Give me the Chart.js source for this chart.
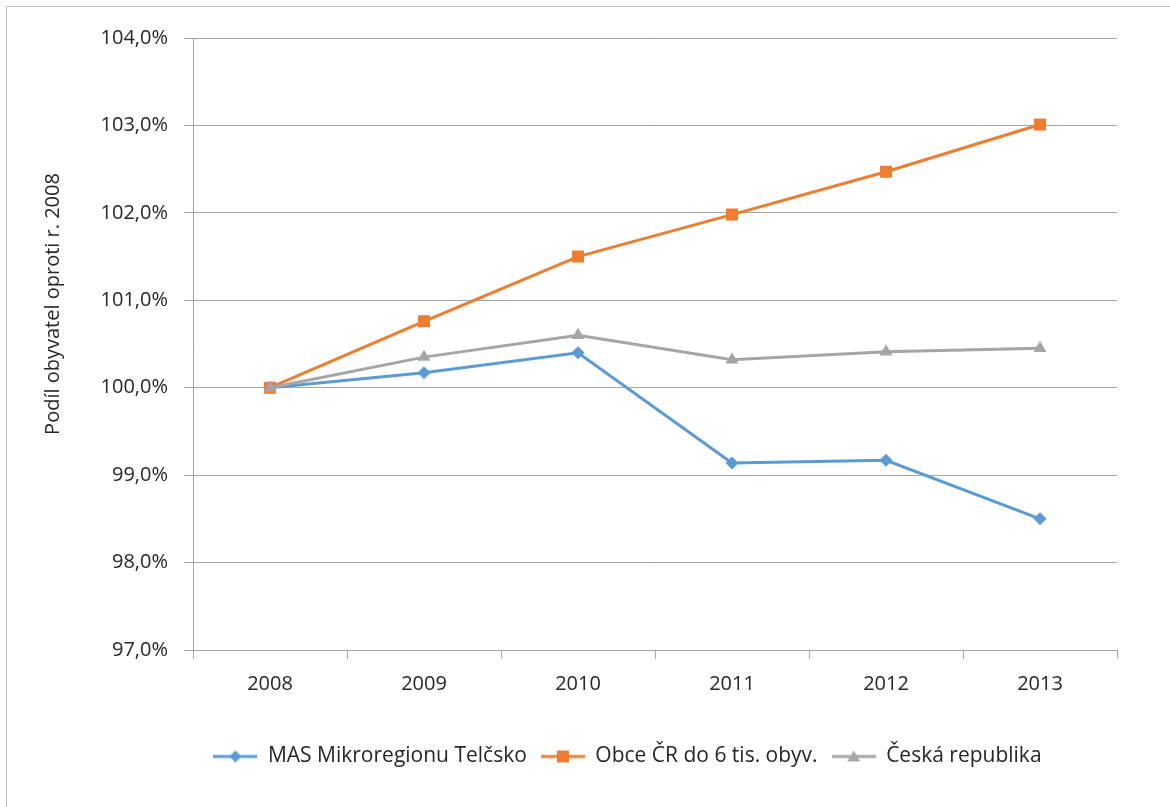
<!DOCTYPE html>
<html><head><meta charset="utf-8">
<script src="https://cdn.jsdelivr.net/npm/chart.js@4"></script>
<style>html,body{margin:0;padding:0;background:#fff;} #wrap{position:relative;width:1170px;height:807px;}</style>
</head><body><div id="wrap"><canvas id="c" width="1170" height="807"></canvas></div>
<script>
const categories = ['2008', '2009', '2010', '2011', '2012', '2013'];
const masTelcsko = [100.0, 100.17, 100.40, 99.14, 99.17, 98.50];
const obceCR = [100.0, 100.76, 101.50, 101.98, 102.47, 103.01];
const ceskaRepublika = [100.0, 100.35, 100.60, 100.32, 100.41, 100.45];
const seriesNames = ['MAS Mikroregionu Telčsko', 'Obce ČR do 6 tis. obyv.', 'Česká republika'];
const yMin = 97, yMax = 104, yStep = 1;
const yTitle = 'Podíl obyvatel oproti r. 2008';

const colors = ['#5B9BD5', '#ED7D31', '#A5A5A5'];
const styles = ['rectRot', 'rect', 'triangle'];
const radii = [6.5, 8.5, 7.5];
const textColor = '#262626';
const gridColor = '#a6a6a6';
const FONT = "'Open Sans', 'Noto Sans', sans-serif";

function legendIcon(i) {
  const c = document.createElement('canvas');
  c.width = 44; c.height = 18;
  const x = c.getContext('2d');
  x.strokeStyle = colors[i]; x.fillStyle = colors[i]; x.lineWidth = 3;
  x.beginPath(); x.moveTo(0, 9); x.lineTo(44, 9); x.stroke();
  x.beginPath();
  if (styles[i] === 'rectRot') { x.moveTo(22, 3); x.lineTo(28, 9); x.lineTo(22, 15); x.lineTo(16, 9); }
  else if (styles[i] === 'rect') { x.rect(16, 3, 12, 12); }
  else { x.moveTo(22, 3); x.lineTo(28.5, 14); x.lineTo(15.5, 14); }
  x.closePath(); x.fill();
  return c;
}
const icons = [0, 1, 2].map(legendIcon);

const decor = {
  id: 'decor',
  afterLayout(chart) {
    if (chart.legend) { chart.legend.left += 27; chart.legend.right += 27; }
  },
  beforeDraw(chart) {
    const ctx = chart.ctx; ctx.save();
    ctx.fillStyle = '#fff'; ctx.fillRect(0, 0, chart.width, chart.height);
    ctx.strokeStyle = '#bfbfbf'; ctx.lineWidth = 1; ctx.strokeRect(6.5, 6.5, 1400, 1000);
    ctx.restore();
  },
  afterDraw(chart) {
    const ctx = chart.ctx; ctx.save();
    ctx.translate(53, 304); ctx.rotate(-Math.PI / 2);
    ctx.font = "20px " + FONT; ctx.fillStyle = textColor;
    ctx.textAlign = 'center'; ctx.textBaseline = 'middle';
    ctx.fillText(yTitle, 0, 0); ctx.restore();
  }
};

const seriesData = [masTelcsko, obceCR, ceskaRepublika];
new Chart(document.getElementById('c'), {
  type: 'line',
  data: {
    labels: categories,
    datasets: seriesData.map((d, i) => ({
      label: seriesNames[i], data: d,
      borderColor: colors[i], backgroundColor: colors[i],
      borderWidth: 3, tension: 0,
      pointStyle: styles[i], pointRadius: radii[i], pointHoverRadius: radii[i],
      pointBorderWidth: 0, pointBackgroundColor: colors[i],
      order: 3 - i
    }))
  },
  options: {
    responsive: false, animation: false, devicePixelRatio: 1,
    layout: { padding: { left: 84, right: 53, top: 38, bottom: 30 } },
    plugins: {
      tooltip: { enabled: false },
      legend: {
        position: 'bottom',
        labels: {
          font: { family: FONT, size: 21 }, color: textColor,
          usePointStyle: true, pointStyleWidth: 44, padding: 14,
          generateLabels: (chart) => chart.data.datasets.map((ds, i) => ({
            text: ds.label, pointStyle: icons[i], fillStyle: colors[i], strokeStyle: colors[i],
            lineWidth: 0, hidden: false, datasetIndex: i, fontColor: textColor
          }))
        }
      }
    },
    scales: {
      x: {
        offset: true,
        grid: { offset: true, drawOnChartArea: false, drawTicks: true, tickLength: 9, color: gridColor },
        border: { display: true, color: gridColor },
        ticks: { font: { family: FONT, size: 20 }, color: textColor, padding: 13 },
        afterFit: (s) => { s.height = 82; }
      },
      y: {
        min: yMin, max: yMax,
        grid: { color: gridColor, tickLength: 9, drawTicks: true },
        border: { display: true, color: gridColor },
        ticks: {
          stepSize: yStep, font: { family: FONT, size: 20 }, color: textColor, padding: 16,
          callback: (v) => v.toFixed(1).replace('.', ',') + '%'
        },
        afterFit: (s) => { s.width = 109; }
      }
    }
  },
  plugins: [decor]
});
</script></body></html>
